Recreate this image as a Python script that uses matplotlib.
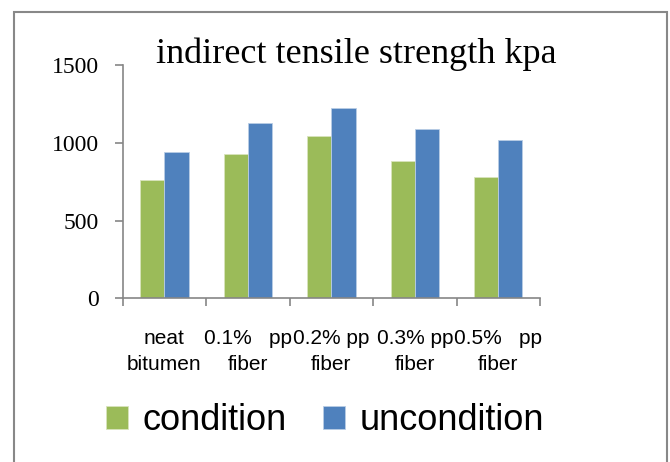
import numpy as np
import matplotlib
matplotlib.use('Agg')
import matplotlib.pyplot as plt
from matplotlib.patches import Rectangle

categories = ['neat\nbitumen', '0.1%   pp\nfiber', '0.2% pp\nfiber', '0.3% pp\nfiber', '0.5%   pp\nfiber']
condition = [760, 926, 1044, 885, 780]
uncondition = [940, 1129, 1226, 1087, 1016]
yticks = [0, 500, 1000, 1500]

green = '#9BBB59'
blue = '#4F81BD'
axis_gray = '#868686'

fig = plt.figure(figsize=(6.7, 4.62), dpi=100)
ax = fig.add_axes([0.1831, 0.3543, 0.806 - 0.1831, 0.859 - 0.3543])

x = np.arange(len(categories))
w = 0.29
ax.bar(x - w / 2, condition, w, color=green, edgecolor='#d8e4bc', linewidth=0.6, label='condition')
ax.bar(x + w / 2, uncondition, w, color=blue, edgecolor='#b9cde5', linewidth=0.6, label='uncondition')

ax.set_xlim(-0.5, len(categories) - 0.5)
ax.set_ylim(0, 1500)
ax.set_yticks(yticks)
ax.set_yticklabels([str(v) for v in yticks], family='Liberation Serif', fontsize=17)
ax.set_xticks(np.arange(len(categories) + 1) - 0.5)
ax.set_xticklabels([])
ax.set_xticks(x, minor=True)
ax.set_xticklabels(categories, minor=True, family='Liberation Sans', fontsize=15, linespacing=1.45)
ax.tick_params(axis='x', which='minor', length=0, pad=22)
ax.tick_params(axis='x', which='major', length=6, color=axis_gray, width=1.2, direction='out')
ax.tick_params(axis='y', length=6, color=axis_gray, width=1.2, pad=11)

for side in ['top', 'right']:
    ax.spines[side].set_visible(False)
for side in ['left', 'bottom']:
    ax.spines[side].set_color(axis_gray)
    ax.spines[side].set_linewidth(1.2)

fig.text(356 / 670, 1 - 54 / 462, 'indirect tensile strength kpa', family='Liberation Serif',
         fontsize=26, ha='center', va='center')

leg = fig.legend(loc='center', bbox_to_anchor=(325 / 670, 1 - 421 / 462), ncol=2, frameon=False,
                 prop={'family': 'Liberation Sans', 'size': 26}, handlelength=0.62, handleheight=0.62,
                 handletextpad=0.4, columnspacing=1.0)

fig.patches.append(Rectangle((14 / 670, -0.05), (667 - 14) / 670, 1.05 - 12 / 462,
                             transform=fig.transFigure, fill=False, edgecolor='#888888', linewidth=1.5))

fig.savefig('out.png', dpi=100)
